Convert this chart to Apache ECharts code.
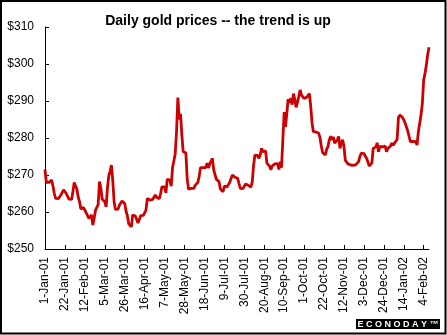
<!DOCTYPE html>
<html>
<head>
<meta charset="utf-8">
<script src="https://cdn.jsdelivr.net/npm/echarts@6/dist/echarts.min.js"></script>
<style>
html,body{margin:0;padding:0;background:#fff;}
#chart{width:447px;height:335px;}
</style>
</head>
<body>
<div id="chart"></div>
<script>
var titleText = 'Daily gold prices -- the trend is up';
var tickLabels = ['1-Jan-01','22-Jan-01','12-Feb-01','5-Mar-01','26-Mar-01','16-Apr-01','7-May-01','28-May-01','18-Jun-01','9-Jul-01','30-Jul-01','20-Aug-01','10-Sep-01','1-Oct-01','22-Oct-01','12-Nov-01','3-Dec-01','24-Dec-01','14-Jan-02','4-Feb-02'];
var yTicks = [250, 260, 270, 280, 290, 300, 310];
var prices = [
271.5,268.0,267.8,268.0,268.3,268.6,267.0,265.0,263.7,263.8,
263.6,263.9,264.6,264.8,266.0,265.8,265.0,264.8,263.5,263.2,
263.4,265.5,268.0,267.0,266.2,264.0,262.8,260.8,260.5,261.2,
260.9,259.8,259.6,258.3,258.5,259.2,256.5,258.3,260.5,260.3,
262.0,268.2,266.5,263.5,263.2,262.8,261.4,266.5,269.8,271.0,
272.7,268.5,262.8,260.7,260.6,260.8,261.8,262.0,263.0,262.8,
262.3,260.2,259.0,256.8,256.3,256.0,259.2,258.7,258.9,258.6,
257.0,257.5,259.0,259.2,259.1,259.3,260.5,263.7,263.5,263.2,
263.0,263.4,264.0,264.6,264.0,263.7,263.6,265.0,266.8,266.7,
266.8,265.2,268.8,269.0,268.6,267.0,272.0,272.5,275.7,281.7,
290.9,285.0,286.5,280.8,276.3,276.2,276.0,269.1,266.2,265.8,
266.4,266.0,266.4,267.2,267.7,268.0,269.5,272.0,272.2,272.0,
271.8,272.0,273.2,271.9,273.0,273.0,274.5,271.4,270.0,268.8,
268.6,268.2,266.2,265.8,265.5,267.0,267.3,266.8,266.9,268.0,
268.1,270.0,269.8,269.4,269.3,269.1,267.7,266.4,266.5,266.3,
266.4,267.6,267.6,267.2,267.1,266.7,268.2,272.7,275.4,275.2,
275.3,274.5,275.4,277.2,276.3,276.6,276.5,273.2,273.1,272.4,
271.4,272.4,272.4,273.0,272.9,273.1,271.5,273.6,272.0,279.5,
287.0,283.0,286.7,290.5,289.5,290.8,289.0,292.0,290.3,288.3,
288.5,291.2,293.0,291.6,291.4,290.7,291.2,291.0,291.5,292.0,
288.5,284.0,281.7,281.7,281.6,281.7,281.3,280.0,277.7,276.0,
275.9,275.4,277.0,277.7,279.5,280.5,279.5,280.3,278.6,278.8,
279.5,280.4,277.2,278.6,279.5,277.7,274.0,273.6,273.0,272.8,
272.7,272.7,272.6,272.7,272.8,272.7,273.6,275.0,275.9,276.0,
275.8,276.3,274.5,273.6,272.4,272.5,273.2,277.2,277.7,277.6,
278.7,276.3,277.7,277.7,277.6,277.7,277.8,276.3,277.2,277.7,
277.8,278.6,278.0,278.6,278.5,279.6,285.5,286.2,286.0,285.6,
284.9,284.1,283.0,281.9,280.4,279.0,279.0,279.1,278.9,279.0,
278.1,281.7,284.0,286.2,289.4,295.7,297.5,299.7,302.5,304.5
];

// business-day category dates starting 1-Jan-2001
var months = ['Jan','Feb','Mar','Apr','May','Jun','Jul','Aug','Sep','Oct','Nov','Dec'];
var dates = [];
var d = new Date(2001, 0, 1);
while (dates.length < prices.length) {
  var wd = d.getDay();
  if (wd !== 0 && wd !== 6) {
    dates.push(d.getDate() + '-' + months[d.getMonth()] + '-' + String(d.getFullYear()).slice(2));
  }
  d.setDate(d.getDate() + 1);
}

var FONT = '"Liberation Sans", Arial, sans-serif';
var chart = echarts.init(document.getElementById('chart'), null, {renderer: 'canvas'});
chart.setOption({
  animation: false,
  backgroundColor: '#fff',
  grid: {left: 45, top: 27, right: 18, bottom: 86, containLabel: false},
  xAxis: {
    type: 'category',
    data: dates,
    boundaryGap: false,
    axisLine: {show: true, lineStyle: {color: '#000', width: 1}},
    axisTick: {show: true, inside: true, length: 4, interval: 14, lineStyle: {color: '#000'}},
    axisLabel: {
      interval: 14, rotate: 90, margin: 8, fontSize: 12, color: '#000', fontFamily: FONT,
      formatter: function (v, idx) { var k = idx / 15; return (k === Math.floor(k) && tickLabels[k]) ? tickLabels[k] : ''; }
    },
    splitLine: {show: false}
  },
  yAxis: {
    type: 'value',
    min: yTicks[0], max: yTicks[yTicks.length - 1], interval: 10,
    axisLine: {show: true, lineStyle: {color: '#000', width: 1}},
    axisTick: {show: true, inside: true, length: 4, lineStyle: {color: '#000'}},
    axisLabel: {margin: 11, fontSize: 12, color: '#000', fontFamily: FONT, formatter: function (v) { return '$' + v; }},
    splitLine: {show: false}
  },
  series: [{
    type: 'line',
    data: prices,
    showSymbol: false,
    symbol: 'none',
    lineStyle: {color: '#cc0000', width: 2.8},
    itemStyle: {color: '#cc0000'}
  }],
  graphic: [
    {type: 'rect', shape: {x: 1, y: 1, width: 444.5, height: 332.5}, style: {fill: 'none', stroke: '#000', lineWidth: 2}, z: 100},
    {type: 'text', x: 218, y: 21, style: {text: titleText, font: 'bold 14px ' + FONT, fill: '#000', textAlign: 'center', textVerticalAlign: 'middle'}},
    {type: 'rect', shape: {x: 356, y: 319, width: 84, height: 10}, style: {fill: '#000'}},
    {type: 'text', x: 398, y: 324.5, style: {text: 'E C O N O D A Y \u2122', font: 'bold 9px ' + FONT, fill: '#fff', textAlign: 'center', textVerticalAlign: 'middle'}}
  ]
});
</script>
</body>
</html>
